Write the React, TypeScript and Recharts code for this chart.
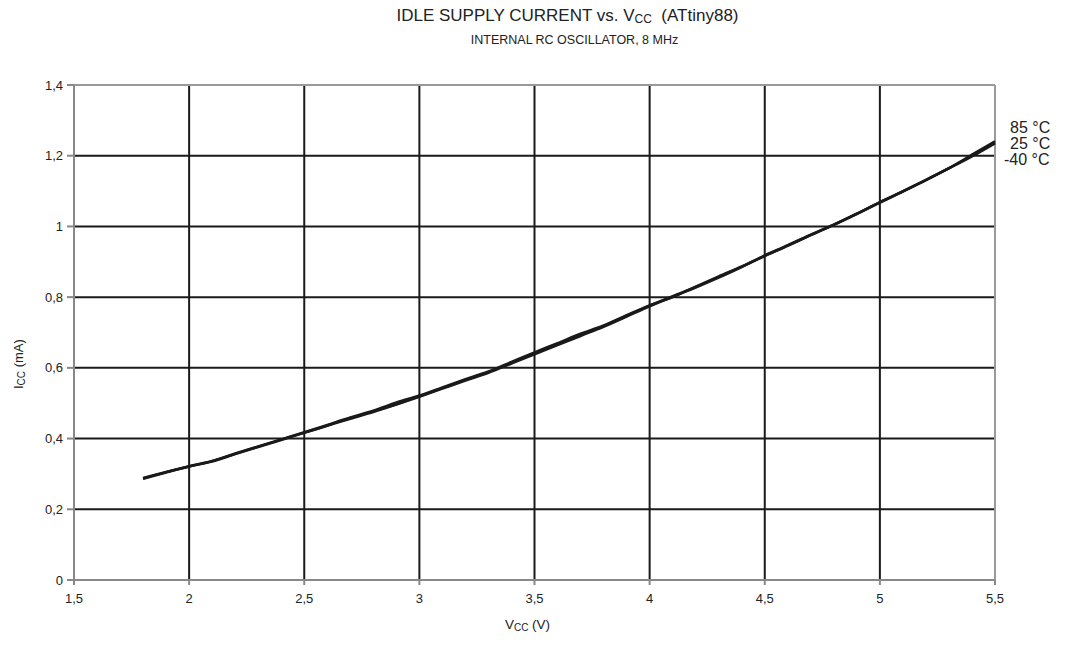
import { LineChart, Line, XAxis, YAxis, CartesianGrid, ReferenceLine } from 'recharts';

const vcc = [1.8, 1.9, 2.0, 2.1, 2.2, 2.3, 2.4, 2.5, 2.6, 2.7, 2.8, 2.9, 3.0, 3.1, 3.2, 3.3, 3.4, 3.5, 3.6, 3.7, 3.8, 3.9, 4.0, 4.1, 4.2, 4.3, 4.4, 4.5, 4.6, 4.7, 4.8, 4.9, 5.0, 5.1, 5.2, 5.3, 5.4, 5.5];

const icc85 = [0.289, 0.306, 0.322, 0.337, 0.358, 0.378, 0.398, 0.418, 0.439, 0.460, 0.479, 0.502, 0.522, 0.545, 0.568, 0.590, 0.617, 0.644, 0.670, 0.697, 0.720, 0.749, 0.777, 0.800, 0.830, 0.859, 0.887, 0.918, 0.947, 0.977, 1.005, 1.036, 1.069, 1.099, 1.131, 1.165, 1.203, 1.241];
const icc25 = [0.287, 0.305, 0.321, 0.336, 0.357, 0.377, 0.397, 0.417, 0.437, 0.458, 0.477, 0.497, 0.520, 0.543, 0.566, 0.588, 0.614, 0.641, 0.666, 0.693, 0.718, 0.747, 0.776, 0.803, 0.829, 0.857, 0.886, 0.917, 0.946, 0.976, 1.005, 1.036, 1.068, 1.100, 1.132, 1.165, 1.200, 1.238];
const iccM40 = [0.286, 0.304, 0.321, 0.335, 0.356, 0.376, 0.396, 0.416, 0.436, 0.456, 0.475, 0.496, 0.518, 0.541, 0.564, 0.586, 0.612, 0.638, 0.664, 0.690, 0.716, 0.745, 0.774, 0.801, 0.827, 0.855, 0.885, 0.916, 0.945, 0.975, 1.004, 1.035, 1.067, 1.098, 1.131, 1.164, 1.198, 1.235];

const xTicks = [1.5, 2, 2.5, 3, 3.5, 4, 4.5, 5, 5.5];
const yTicks = [0, 0.2, 0.4, 0.6, 0.8, 1, 1.2, 1.4];
const seriesLabels = ['85 °C', '25 °C', '-40 °C'];

const data = vcc.map((v, i) => ({ v, t85: icc85[i], t25: icc25[i], tm40: iccM40[i] }));

const fmt = (n: number) => String(n).replace('.', ',');
const font = '"Liberation Sans", Arial, sans-serif';

export default function App() {
  return (
    <div style={{ position: 'absolute', left: 0, top: 0, width: 1069, height: 646, background: '#fff', fontFamily: font, color: '#222' }}>
      <div style={{ position: 'absolute', left: 0, width: 1069, top: 6, textAlign: 'center', fontSize: 17, marginLeft: 33, whiteSpace: 'nowrap' }}>
        IDLE SUPPLY CURRENT vs. V<sub style={{ fontSize: 12, verticalAlign: -2 }}>CC</sub>&nbsp;&nbsp;(ATtiny88)
      </div>
      <div style={{ position: 'absolute', left: 0, width: 1069, top: 33, textAlign: 'center', fontSize: 12.5, marginLeft: 40 }}>
        INTERNAL RC OSCILLATOR, 8 MHz
      </div>
      <LineChart width={1069} height={646} data={data} margin={{ top: 85, right: 74, left: 34, bottom: 36 }}>
        <CartesianGrid stroke="#1a1a1a" strokeWidth={2} />
        <XAxis
          dataKey="v"
          type="number"
          domain={[1.5, 5.5]}
          ticks={xTicks}
          tickFormatter={fmt}
          stroke="#888"
          strokeWidth={2}
          tickSize={5}
          tickMargin={9}
          tick={{ fill: '#222', fontSize: 13, fontFamily: font }}
          height={30}
        />
        <YAxis
          type="number"
          domain={[0, 1.4]}
          ticks={yTicks}
          tickFormatter={fmt}
          stroke="#888"
          strokeWidth={2}
          tickSize={7}
          tickMargin={4}
          tick={{ fill: '#222', fontSize: 13, fontFamily: font }}
          width={40}
        />
        <ReferenceLine y={1.4} stroke="#999" strokeWidth={2} />
        <ReferenceLine x={5.5} stroke="#999" strokeWidth={2} />
        <Line dataKey="t85" type="monotone" stroke="#1a1a1a" strokeWidth={2.4} dot={false} isAnimationActive={false} />
        <Line dataKey="t25" type="monotone" stroke="#1a1a1a" strokeWidth={2.4} dot={false} isAnimationActive={false} />
        <Line dataKey="tm40" type="monotone" stroke="#1a1a1a" strokeWidth={2.4} dot={false} isAnimationActive={false} />
      </LineChart>
      {seriesLabels.map((s, i) => (
        <div key={s} style={{ position: 'absolute', left: i === 2 ? 1004 : 1010, top: 120 + i * 16, fontSize: 16, lineHeight: '16px', whiteSpace: 'nowrap' }}>
          {s}
        </div>
      ))}
      <div style={{ position: 'absolute', left: 11, top: 389, fontSize: 13, transform: 'rotate(-90deg)', transformOrigin: '0 0', whiteSpace: 'nowrap' }}>
        I<sub style={{ fontSize: 10, verticalAlign: -2 }}>CC</sub> (mA)
      </div>
      <div style={{ position: 'absolute', left: 0, width: 1069, top: 617, textAlign: 'center', fontSize: 13.5, marginLeft: -7 }}>
        V<sub style={{ fontSize: 10, verticalAlign: -2 }}>CC</sub> (V)
      </div>
    </div>
  );
}
